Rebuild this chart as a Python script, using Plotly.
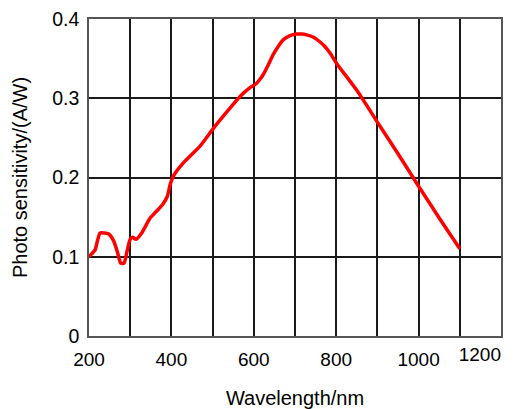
import plotly.graph_objects as go

wavelength = [200, 215, 220, 227, 237, 247, 259, 269, 277, 285, 292, 300, 306, 314, 328, 348,
              365, 380, 390, 397, 405, 430, 470, 502, 535, 566, 590, 605, 615, 623, 635, 647,
              660, 672, 688, 704, 716, 728, 745, 761, 773, 785, 801, 850, 906, 950, 1000,
              1050, 1100]
sensitivity = [0.100, 0.109, 0.119, 0.130, 0.130, 0.129, 0.121, 0.106, 0.092, 0.092, 0.106,
               0.122, 0.1245, 0.122, 0.130, 0.1485, 0.158, 0.167, 0.176, 0.191, 0.202, 0.219,
               0.240, 0.262, 0.283, 0.302, 0.313, 0.318, 0.324, 0.330, 0.342, 0.355, 0.366,
               0.374, 0.379, 0.381, 0.381, 0.380, 0.377, 0.371, 0.365, 0.357, 0.344, 0.310,
               0.265, 0.230, 0.189, 0.149, 0.110]

x_ticks = [200, 400, 600, 800, 1000]
x_tick_labels = ["200", "400", "600", "800", "1000"]
x_edge_tick = [1200]
x_edge_label = ["1200"]
y_ticks = [0, 0.1, 0.2, 0.3, 0.4]
y_tick_labels = ["0", "0.1", "0.2", "0.3", "0.4"]

font_family = "Liberation Sans, Arial, sans-serif"

fig = go.Figure()
fig.add_trace(go.Scatter(
    x=wavelength, y=sensitivity, mode="lines",
    line=dict(color="#ff0000", width=3.5, shape="spline", smoothing=0.6),
    showlegend=False, hoverinfo="skip"))
fig.add_trace(go.Scatter(x=[], y=[], xaxis="x2", showlegend=False, hoverinfo="skip"))

# page body has an 8px default margin, so the figure is sized 8px smaller
fig.update_layout(
    width=514, height=401,
    margin=dict(l=81, r=21, t=11, b=73),
    paper_bgcolor="white", plot_bgcolor="white",
    font=dict(family=font_family, size=19, color="black"),
    xaxis2=dict(
        overlaying="x", anchor="y", side="bottom", range=[200, 1200],
        tickvals=x_edge_tick, ticktext=x_edge_label,
        showgrid=False, showline=False, zeroline=False, ticks="",
        ticklabelposition="outside left", ticklabelstandoff=5,
        ticklabeloverflow="allow", automargin=False,
        tickfont=dict(size=19),
    ),
)
fig.update_xaxes(
    selector=dict(anchor="y", overlaying=None),
)
fig.layout.xaxis.update(
    range=[200, 1200], tickvals=x_ticks, ticktext=x_tick_labels,
    showgrid=True, gridcolor="#1a1a1a", gridwidth=1.5,
    minor=dict(dtick=100, tick0=200, showgrid=True, gridcolor="#1a1a1a", gridwidth=1.5),
    showline=True, linecolor="#555555", linewidth=1.5, mirror=True,
    ticks="", ticklabelstandoff=5, zeroline=False, automargin=False,
    ticklabeloverflow="allow",
    tickfont=dict(size=19),
    title=dict(text="Wavelength/nm", font=dict(size=20), standoff=32),
)
fig.update_yaxes(
    range=[0, 0.4], tickvals=y_ticks, ticktext=y_tick_labels,
    showgrid=True, gridcolor="#1a1a1a", gridwidth=1.5,
    showline=True, linecolor="#555555", linewidth=1.5, mirror=True,
    ticks="", ticklabelstandoff=4, zeroline=False, automargin=False,
    ticklabeloverflow="allow",
    tickfont=dict(size=19.5),
    title=dict(text="Photo sensitivity/(A/W)", font=dict(size=20), standoff=19),
)

fig.write_html("out.html")
